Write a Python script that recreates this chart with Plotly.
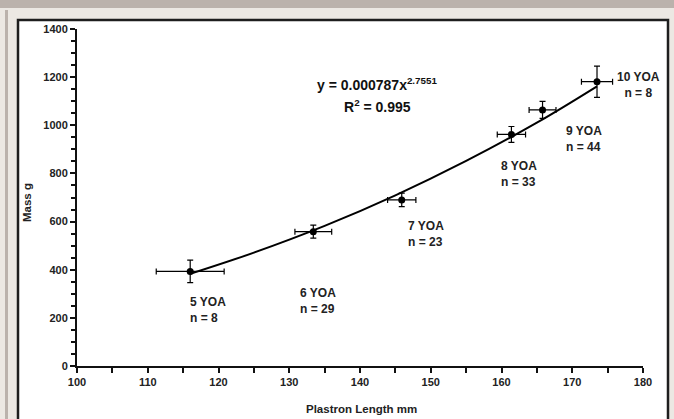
import plotly.graph_objects as go

# Data
ages = ["5 YOA", "6 YOA", "7 YOA", "8 YOA", "9 YOA", "10 YOA"]
counts = [8, 29, 23, 33, 44, 8]
plastron_mm = [116.0, 133.4, 145.9, 161.4, 165.8, 173.5]
plastron_err = [4.8, 2.6, 2.0, 2.0, 1.9, 2.2]
mass_g = [393, 558, 690, 962, 1064, 1181]
mass_err = [47, 27, 28, 33, 35, 65]

# Power trend line (y = 0.000787x^2.7551)
fit_x = [116, 125, 135, 145, 155, 165, 173.5]
fit_y = [383, 471, 582, 709, 852, 1011, 1162]

# Label anchor points (data units)
label_x = [115.7, 131.2, 146.5, 159.6, 168.8, 179.3]
label_y = [233, 272, 550, 798, 943, 1167]
label_anchor = ["left", "left", "left", "left", "left", "center"]

FONT = "Liberation Sans, Arial, sans-serif"

fig = go.Figure()

fig.add_trace(go.Scatter(
    x=fit_x, y=fit_y, mode="lines", line=dict(color="black", width=2, shape="spline"),
    hoverinfo="skip", showlegend=False))

fig.add_trace(go.Scatter(
    x=plastron_mm, y=mass_g, mode="markers",
    marker=dict(color="black", size=7),
    error_x=dict(type="data", array=plastron_err, color="black", thickness=1.2, width=3),
    error_y=dict(type="data", array=mass_err, color="black", thickness=1.2, width=3),
    showlegend=False))

W, H = 674, 419
L, R, T, B = 77, 643, 29, 366
pw, ph = R - L, B - T

def px(x):
    return (x - L) / pw

def py(y):
    return (B - y) / ph

shapes = [
    # top dark band
    dict(type="rect", xref="paper", yref="paper", x0=px(0), x1=px(W), y0=py(0), y1=py(8),
         fillcolor="#bbb2ac", line=dict(width=0), layer="below"),
    # left dark strip
    dict(type="rect", xref="paper", yref="paper", x0=px(5), x1=px(8), y0=py(10), y1=py(H),
         fillcolor="#bbb2ac", line=dict(width=0), layer="below"),
    # white inner panel with black border
    dict(type="rect", xref="paper", yref="paper", x0=px(18), x1=px(668), y0=py(20), y1=py(H + 5),
         fillcolor="white", line=dict(color="#1e1e1e", width=2.5), layer="below"),
]

annotations = []
for a, n, lx, ly, anc in zip(ages, counts, label_x, label_y, label_anchor):
    annotations.append(dict(
        x=lx, y=ly, xref="x", yref="y", text=f"{a}<br>n = {n}", showarrow=False,
        xanchor=anc, yanchor="middle", align=anc,
        font=dict(family=FONT, size=12, color="#222", weight="bold")))

annotations += [
    dict(x=px(377), y=py(84), xref="paper", yref="paper",
         text="y = 0.000787x<sup>2.7551</sup>", showarrow=False, xanchor="center", yanchor="middle",
         font=dict(family=FONT, size=14, color="#111", weight="bold")),
    dict(x=px(377), y=py(106), xref="paper", yref="paper",
         text="R<sup>2</sup> = 0.995", showarrow=False, xanchor="center", yanchor="middle",
         font=dict(family=FONT, size=14, color="#111", weight="bold")),
    dict(x=px(361), y=py(409), xref="paper", yref="paper", text="Plastron Length mm",
         showarrow=False, xanchor="center", yanchor="middle",
         font=dict(family=FONT, size=11.5, color="#222", weight="bold")),
    dict(x=px(27), y=py(203), xref="paper", yref="paper", text="Mass g", textangle=-90,
         showarrow=False, xanchor="center", yanchor="middle",
         font=dict(family=FONT, size=11.5, color="#222", weight="bold")),
]

tickfont = dict(family=FONT, size=11, color="#222", weight="bold")

fig.update_layout(
    width=W, height=H,
    margin=dict(l=L, r=W - R, t=T, b=H - B, pad=0),
    paper_bgcolor="#ece8e3", plot_bgcolor="rgba(0,0,0,0)",
    shapes=shapes, annotations=annotations,
    xaxis=dict(range=[100, 180], dtick=10, tick0=100, showgrid=False, zeroline=False,
               showline=True, linecolor="#111", linewidth=2,
               ticks="outside", ticklen=5, tickwidth=1.5, tickcolor="#111",
               minor=dict(dtick=5, ticks="outside", ticklen=5, tickwidth=1.5, tickcolor="#111"),
               tickfont=tickfont),
    yaxis=dict(range=[0, 1400], dtick=200, tick0=0, showgrid=False, zeroline=False,
               showline=True, linecolor="#111", linewidth=2,
               ticks="outside", ticklen=5, tickwidth=1.5, tickcolor="#111",
               minor=dict(dtick=50, ticks="outside", ticklen=4, tickwidth=1.5, tickcolor="#111"),
               tickfont=tickfont),
)

fig.write_html("out.html")
